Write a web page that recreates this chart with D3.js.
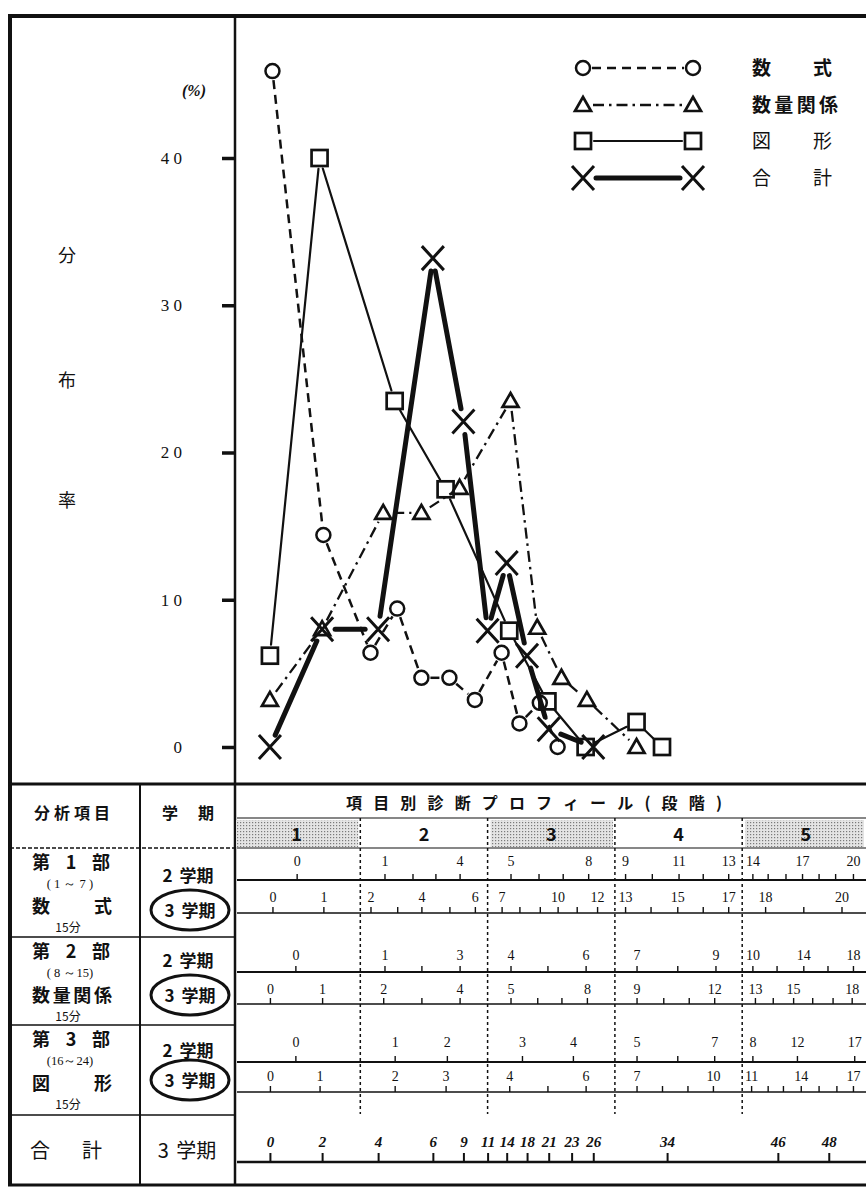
<!DOCTYPE html>
<html>
<head>
<meta charset="utf-8">
<script src="https://cdn.jsdelivr.net/npm/d3@7"></script>
<style>
    body { margin: 0; background: #fff; }
    svg { display: block; }
</style>
</head>
<body>
<svg id="chart" width="866" height="1188"></svg>
<script>
// Distribution of scores (3学期) against the diagnostic profile

// y axis (分布率 %)
const pctTicks = [0, 10, 20, 30, 40];

// plotted series: score -> percentage
const formulaScores = [0, 1, 2, 3, 4, 5, 6, 7, 8, 9, 10];
const formulaPct = [45.9, 14.4, 6.4, 9.4, 4.7, 4.7, 3.2, 6.4, 1.6, 3.0, 0];
const quantityScores = [0, 1, 2, 3, 4, 5, 6, 7, 8, 9];
const quantityPct = [3.2, 8.0, 15.9, 15.9, 17.6, 23.5, 8.1, 4.7, 3.2, 0];
const figureScores = [0, 1, 2, 3, 4, 5, 6, 7, 8];
const figurePct = [6.2, 40.0, 23.5, 17.5, 7.9, 3.1, 0, 1.7, 0];
const totalScores = [0, 2, 4, 6, 9, 11, 14, 18, 21, 26];
const totalPct = [0, 8.0, 8.0, 33.2, 22.1, 7.9, 12.5, 6.2, 1.2, 0];

const seriesNames = ['数　式', '数量関係', '図　形', '合　計'];

// profile stages
const stageNames = ['1', '2', '3', '4', '5'];
const shadedStages = ['1', '3', '5'];

// profile conversion rows: score ticks, their place in stage units (0..5), labelled ticks
const f2Scores = [0, 1, 2, 3, 4, 5, 6, 7, 8, 9, 10, 11, 12, 13, 14, 15, 16, 17, 18, 19, 20];
const f2Stage = [0.50, 1.19, 1.41, 1.59, 1.78, 2.18, 2.40, 2.59, 2.79, 3.08, 3.29, 3.50, 3.69, 3.89, 4.08, 4.20, 4.34, 4.47, 4.60, 4.73, 4.87];
const f2Labels = [0, 1, 4, 5, 8, 9, 11, 13, 14, 17, 20];

const f3Scores = [0, 1, 2, 3, 4, 5, 6, 7, 8, 9, 10, 11, 12, 13, 14, 15, 16, 17, 18, 19, 20];
const f3Stage = [0.31, 0.71, 1.08, 1.29, 1.48, 1.70, 1.90, 2.11, 2.25, 2.41, 2.55, 2.70, 2.86, 3.08, 3.28, 3.49, 3.69, 3.89, 4.18, 4.48, 4.78];
const f3Labels = [0, 1, 2, 4, 6, 7, 10, 12, 13, 15, 17, 18, 20];

const q2Scores = [0, 1, 2, 3, 4, 5, 6, 7, 8, 9, 10, 12, 14, 16, 18];
const q2Stage = [0.49, 1.19, 1.48, 1.78, 2.18, 2.47, 2.77, 3.17, 3.49, 3.79, 4.08, 4.27, 4.48, 4.67, 4.87];
const q2Labels = [0, 1, 3, 4, 6, 7, 9, 10, 14, 18];

const q3Scores = [0, 1, 2, 3, 4, 5, 6, 7, 8, 9, 10, 11, 12, 13, 14, 15, 16, 17, 18];
const q3Stage = [0.29, 0.70, 1.18, 1.48, 1.78, 2.18, 2.39, 2.58, 2.78, 3.17, 3.38, 3.58, 3.78, 4.10, 4.24, 4.40, 4.55, 4.71, 4.86];
const q3Labels = [0, 1, 2, 4, 5, 8, 9, 12, 13, 15, 18];

const g2Scores = [0, 1, 2, 3, 4, 5, 6, 7, 8, 12, 17];
const g2Stage = [0.49, 1.27, 1.68, 2.27, 2.67, 3.17, 3.49, 3.78, 4.08, 4.43, 4.88];
const g2Labels = [0, 1, 2, 3, 4, 5, 7, 8, 12, 17];

const g3Scores = [0, 1, 2, 3, 4, 5, 6, 7, 8, 9, 10, 11, 12, 13, 14, 15, 16, 17];
const g3Stage = [0.29, 0.68, 1.27, 1.67, 2.17, 2.47, 2.77, 3.17, 3.37, 3.57, 3.77, 4.07, 4.20, 4.32, 4.46, 4.60, 4.74, 4.87];
const g3Labels = [0, 1, 2, 3, 4, 6, 7, 10, 11, 14, 17];

const tScores = [0, 2, 4, 6, 9, 11, 14, 18, 21, 23, 26, 34, 46, 48];
const tStage = [0.29, 0.70, 1.14, 1.57, 1.81, 2.00, 2.15, 2.31, 2.48, 2.66, 2.83, 3.41, 4.28, 4.68];
const tLabels = [0, 2, 4, 6, 9, 11, 14, 18, 21, 23, 26, 34, 46, 48];

// left table texts
const partTitles = ['第 1 部', '第 2 部', '第 3 部'];
const partRanges = ['( 1 ～ 7 )', '( 8 ～15)', '(16～24)'];
const partNames = ['数　　式', '数量関係', '図　　形'];
const partTimes = ['15分', '15分', '15分'];

const W = 866;
const INK = '#111';
const JP = '"Noto Sans CJK JP", "Noto Sans", sans-serif';
const SERIF = '"Liberation Serif", "DejaVu Serif", serif';

const svg = d3.select('#chart');
svg.append('rect').attr('width', 866).attr('height', 1188).attr('fill', '#fff');

const y = d3.scaleLinear().domain([0, 40]).range([747, 158]);
const stageX = d3.scaleLinear().domain([0, 5]).range([233, 869.5]);

function profileScale(scores, stagePos) {
    return d3.scaleLinear().domain(scores).range(stagePos.map(stageX));
}

// ---------- frame ----------
function hline(x1, x2, yy, w, dash) {
    svg.append('line').attr('x1', x1).attr('x2', x2).attr('y1', yy).attr('y2', yy)
        .attr('stroke', INK).attr('stroke-width', w).attr('stroke-dasharray', dash || null);
}
function vline(xx, y1, y2, w, dash) {
    svg.append('line').attr('x1', xx).attr('x2', xx).attr('y1', y1).attr('y2', y2)
        .attr('stroke', INK).attr('stroke-width', w).attr('stroke-dasharray', dash || null);
}

hline(8, W, 16, 4);
vline(10, 14, 1186, 4);
hline(8, W, 784, 3);
hline(8, W, 1185, 3);
vline(235, 16, 1185, 2.5);
vline(140, 784, 1185, 2);

// ---------- y axis ----------
const yAxis = svg.append('g').attr('transform', 'translate(235,0)')
    .call(d3.axisLeft(y).tickValues(pctTicks).tickSize(13).tickPadding(40)
        .tickFormat(d => String(d).split('').join(' ')));
yAxis.select('.domain').remove();
yAxis.selectAll('.tick line').attr('stroke', INK).attr('stroke-width', 3.5);
yAxis.selectAll('.tick text').attr('font-family', SERIF).attr('font-size', 17).attr('fill', INK);

svg.append('text').attr('x', 182).attr('y', 96).attr('font-family', SERIF).attr('font-style', 'italic')
    .attr('font-weight', 700).attr('font-size', 16).attr('fill', INK).text('(%)');

['分', '布', '率'].forEach((c, i) => {
    svg.append('text').attr('x', 67).attr('y', [262, 387, 507][i]).attr('text-anchor', 'middle')
        .attr('font-family', JP).attr('font-size', 18).attr('fill', INK).text(c);
});

// ---------- series ----------
const fx = profileScale(f3Scores, f3Stage);
const qx = profileScale(q3Scores, q3Stage);
const gx = profileScale(g3Scores, g3Stage);
const tx = profileScale(tScores, tStage);

const series = [
    { pts: formulaScores.map((s, i) => [fx(s), y(formulaPct[i])]), shape: 'circle', dash: '9,6', width: 2.5, gap: 9 },
    { pts: quantityScores.map((s, i) => [qx(s), y(quantityPct[i])]), shape: 'triangle', dash: '11,5,2.5,5', width: 2.3, gap: 10 },
    { pts: figureScores.map((s, i) => [gx(s), y(figurePct[i])]), shape: 'square', dash: null, width: 2.2, gap: 11 },
    { pts: totalScores.map((s, i) => [tx(s), y(totalPct[i])]), shape: 'cross', dash: null, width: 5, gap: 13 }
];

function drawLine(g, pts, s) {
    for (let i = 0; i < pts.length - 1; i++) {
        const a = pts[i], b = pts[i + 1];
        const dx = b[0] - a[0], dy = b[1] - a[1];
        const len = Math.hypot(dx, dy);
        if (len < 2 * s.gap + 2) continue;
        const ux = dx / len, uy = dy / len;
        g.append('line')
            .attr('x1', a[0] + ux * s.gap).attr('y1', a[1] + uy * s.gap)
            .attr('x2', b[0] - ux * s.gap).attr('y2', b[1] - uy * s.gap)
            .attr('stroke', INK).attr('stroke-width', s.width)
            .attr('stroke-dasharray', s.dash).attr('stroke-linecap', s.dash ? 'butt' : 'round');
    }
}

function drawMarker(g, p, shape) {
    const m = g.append('g').attr('transform', `translate(${p[0]},${p[1]})`)
        .attr('fill', 'none').attr('stroke', INK);
    if (shape === 'circle') {
        m.append('circle').attr('r', 7).attr('stroke-width', 2.5);
    } else if (shape === 'triangle') {
        m.append('path').attr('d', 'M0,-8L8,6L-8,6Z').attr('stroke-width', 2.7)
            .attr('stroke-linejoin', 'miter');
    } else if (shape === 'square') {
        m.append('rect').attr('x', -8).attr('y', -8).attr('width', 16).attr('height', 16)
            .attr('stroke-width', 2.7);
    } else {
        m.append('path').attr('d', 'M-11,-12L11,12M11,-12L-11,12').attr('stroke-width', 3);
    }
}

const plot = svg.append('g');
series.forEach(s => drawLine(plot, s.pts, s));
series.forEach(s => s.pts.forEach(p => drawMarker(plot, p, s.shape)));

// ---------- legend ----------
const legendY = [68, 105, 141, 178];
const legend = svg.append('g');
series.forEach((s, i) => {
    const pts = [[583, legendY[i]], [693, legendY[i]]];
    drawLine(legend, pts, s);
    pts.forEach(p => drawMarker(legend, p, s.shape));
    const name = seriesNames[i].replace('　', '');
    legend.append('text').attr('x', 752).attr('y', legendY[i] + 7)
        .attr('font-family', JP).attr('font-size', 19).attr('fill', INK)
        .attr('font-weight', i < 2 ? 700 : 400)
        .attr('textLength', name.length > 2 ? 86 : 80).attr('lengthAdjust', 'spacing')
        .text(name);
});

// ---------- profile table header ----------
const defs = svg.append('defs');
const pat = defs.append('pattern').attr('id', 'dots').attr('width', 3).attr('height', 3)
    .attr('patternUnits', 'userSpaceOnUse');
pat.append('rect').attr('width', 3).attr('height', 3).attr('fill', '#e4e4e4');
pat.append('rect').attr('width', 1.2).attr('height', 1.2).attr('fill', '#7a7a7a');

svg.append('text').attr('x', 346).attr('y', 809)
    .attr('font-family', JP).attr('font-size', 16).attr('font-weight', 700).attr('fill', INK)
    .attr('textLength', 376).attr('lengthAdjust', 'spacing')
    .text('項目別診断プロフィール(段階)');

stageNames.forEach((s, i) => {
    if (shadedStages.includes(s)) {
        svg.append('rect').attr('x', stageX(i) + 3).attr('y', 820)
            .attr('width', Math.min(stageX(i + 1), W) - stageX(i) - 5).attr('height', 27)
            .attr('fill', 'url(#dots)');
    }
    svg.append('text').attr('x', stageX(i + 0.5)).attr('y', 841).attr('text-anchor', 'middle')
        .attr('font-family', JP).attr('font-size', 18).attr('font-weight', 700).attr('fill', INK)
        .text(s);
});
hline(237, W, 818, 1.2);
hline(237, W, 848, 1.2);
[1, 2, 3, 4].forEach(k => vline(stageX(k), 818, 1114, 1.5, '3,3'));

// ---------- profile rows ----------
const rows = [
    { scores: f2Scores, stage: f2Stage, labels: f2Labels, axisY: 880, tick: 6, pad: 8, w: 2.2 },
    { scores: f3Scores, stage: f3Stage, labels: f3Labels, axisY: 913, tick: 6, pad: 5, w: 1.3 },
    { scores: q2Scores, stage: q2Stage, labels: q2Labels, axisY: 972, tick: 6, pad: 6, w: 2.2 },
    { scores: q3Scores, stage: q3Stage, labels: q3Labels, axisY: 1004, tick: 6, pad: 4, w: 1.3 },
    { scores: g2Scores, stage: g2Stage, labels: g2Labels, axisY: 1062, tick: 6, pad: 9, w: 2.2 },
    { scores: g3Scores, stage: g3Stage, labels: g3Labels, axisY: 1092, tick: 6, pad: 5, w: 1.3 },
    { scores: tScores, stage: tStage, labels: tLabels, axisY: 1162, tick: 9, pad: 6, w: 2.4, hand: true }
];

rows.forEach(r => {
    const sc = profileScale(r.scores, r.stage);
    const g = svg.append('g').attr('transform', `translate(0,${r.axisY})`);
    g.append('line').attr('x1', 237).attr('x2', W).attr('stroke', INK).attr('stroke-width', r.w);
    g.call(d3.axisTop(sc).tickValues(r.scores).tickSize(r.tick).tickPadding(r.pad).tickSizeOuter(0)
        .tickFormat(d => r.labels.includes(d) ? d : ''));
    g.select('.domain').remove();
    g.attr('font-family', SERIF).attr('font-size', r.hand ? 15 : 14);
    g.selectAll('.tick line').attr('stroke', INK).attr('stroke-width', r.hand ? 2 : 1.4);
    g.selectAll('.tick text').attr('fill', INK)
        .attr('font-style', r.hand ? 'italic' : null)
        .attr('font-weight', r.hand ? 700 : null);
});

// ---------- left table ----------
const sectionTop = [848, 937, 1025, 1115];
sectionTop.forEach(t => hline(10, 235, t, 1.3, t === 848 ? '4,2' : null));

svg.append('text').attr('x', 34).attr('y', 819)
    .attr('font-family', JP).attr('font-size', 16).attr('font-weight', 700).attr('fill', INK)
    .attr('textLength', 76).attr('lengthAdjust', 'spacing').text('分析項目');
svg.append('text').attr('x', 162).attr('y', 819)
    .attr('font-family', JP).attr('font-size', 16).attr('font-weight', 700).attr('fill', INK)
    .attr('textLength', 52).attr('lengthAdjust', 'spacing').text('学期');

const term2Y = [875, 960, 1050];
const term3Y = [910, 995, 1080];
partTitles.forEach((p, i) => {
    const top = sectionTop[i];
    svg.append('text').attr('x', 32).attr('y', top + 21)
        .attr('font-family', JP).attr('font-size', 18).attr('font-weight', 700).attr('fill', INK)
        .attr('textLength', 78).attr('lengthAdjust', 'spacing').text(p.replace(/ /g, ''));
    svg.append('text').attr('x', 70).attr('y', top + 40).attr('text-anchor', 'middle')
        .attr('font-family', SERIF).attr('font-size', 12.5).attr('fill', INK).text(partRanges[i]);
    svg.append('text').attr('x', 32).attr('y', top + 65)
        .attr('font-family', JP).attr('font-size', 18).attr('font-weight', 700).attr('fill', INK)
        .attr('textLength', 80).attr('lengthAdjust', 'spacing').text(partNames[i].replace(/　/g, ''));
    svg.append('text').attr('x', 68).attr('y', top + 84).attr('text-anchor', 'middle')
        .attr('font-family', JP).attr('font-size', 12).attr('fill', INK).text(partTimes[i]);

    svg.append('text').attr('x', 188).attr('y', term2Y[i] + 7).attr('text-anchor', 'middle')
        .attr('font-family', JP).attr('font-size', 17).attr('font-weight', 700).attr('fill', INK)
        .attr('word-spacing', 3).text('2 学期');
    svg.append('ellipse').attr('cx', 190).attr('cy', term3Y[i]).attr('rx', 39).attr('ry', 20)
        .attr('fill', 'none').attr('stroke', INK).attr('stroke-width', 3);
    svg.append('text').attr('x', 190).attr('y', term3Y[i] + 7).attr('text-anchor', 'middle')
        .attr('font-family', JP).attr('font-size', 17).attr('font-weight', 700).attr('fill', INK)
        .attr('word-spacing', 3).text('3 学期');
});

svg.append('text').attr('x', 30).attr('y', 1158)
    .attr('font-family', JP).attr('font-size', 20).attr('fill', INK)
    .attr('textLength', 72).attr('lengthAdjust', 'spacing').text('合計');
svg.append('text').attr('x', 187).attr('y', 1158).attr('text-anchor', 'middle')
    .attr('font-family', JP).attr('font-size', 20).attr('fill', INK)
    .attr('word-spacing', 3).text('3 学期');
</script>
</body>
</html>
